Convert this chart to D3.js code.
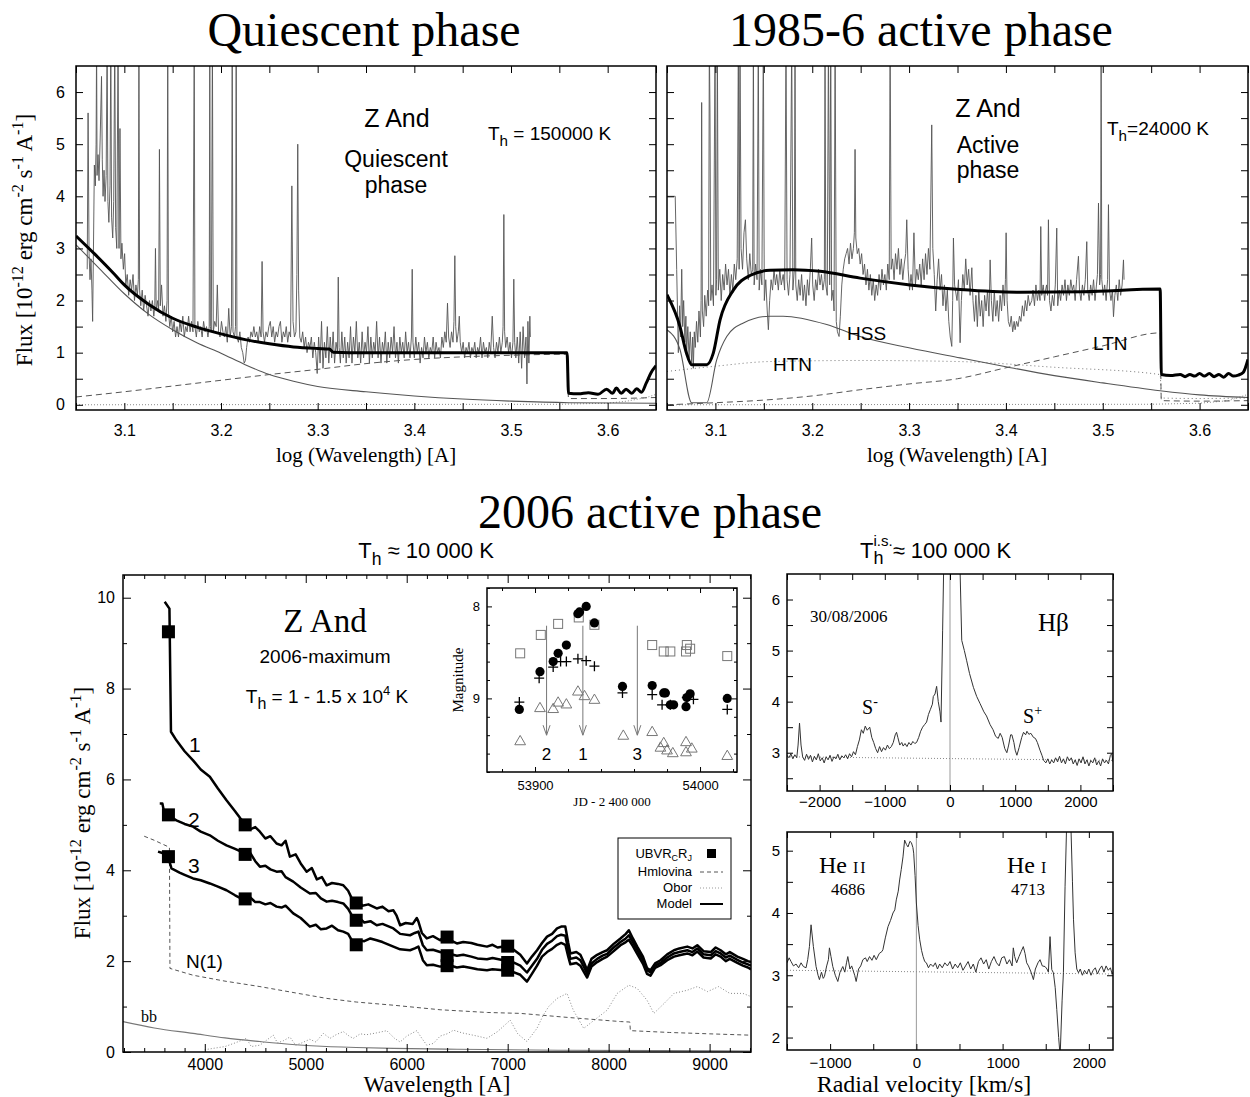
<!DOCTYPE html>
<html>
<head>
<meta charset="utf-8">
<script src="https://cdn.jsdelivr.net/npm/d3@7"></script>
<style>
  body { margin: 0; background: #fff; }
</style>
</head>
<body>
<svg width="1250" height="1097"></svg>
<script>

// ---- quiescent phase (top left), x = log wavelength, y = flux ----
let qObs = [[3.0616,2.6],[3.0625,5.6],[3.0635,2.9],[3.0645,2.4],[3.0655,2.8],[3.0665,2.2],[3.0672,1.6],[3.068,2.9],[3.069,4.6],[3.07,4.2],[3.0708,5.0],[3.0713,7],[3.0718,4.4],[3.0728,4.8],[3.0738,4.3],[3.075,5.1],[3.0764,6.3],[3.0772,4.7],[3.078,4.0],[3.079,4.5],[3.08,3.9],[3.0812,4.4],[3.0822,7],[3.083,3.9],[3.084,3.5],[3.0852,4.2],[3.086,7],[3.0868,3.6],[3.088,3.2],[3.089,3.9],[3.0901,7],[3.091,3.4],[3.0922,3.0],[3.0935,7],[3.0945,3.0],[3.0955,5.3],[3.0965,2.8],[3.0975,3.1],[3.099,2.6],[3.1003,2.9],[3.1015,2.3],[3.103,2.5],[3.1045,2.1],[3.106,2.4],[3.1075,2.2],[3.109,2.5],[3.1105,2.0],[3.112,2.3],[3.1135,2.1],[3.1145,2.4],[3.1151,7],[3.1158,2.2],[3.117,1.9],[3.1185,2.2],[3.12,1.8],[3.1215,2.1],[3.123,1.9],[3.1245,1.7],[3.126,2.0],[3.1275,1.8],[3.129,2.0],[3.1305,1.7],[3.1315,1.9],[3.1322,3.0],[3.133,1.8],[3.1345,2.0],[3.1355,1.8],[3.1363,4.9],[3.1372,1.9],[3.1385,2.3],[3.14,1.7],[3.1415,1.9],[3.143,1.6],[3.1442,2.0],[3.1449,7],[3.1456,1.8],[3.147,1.5],[3.1485,1.7],[3.15,1.4],[3.1515,1.6],[3.153,1.3],[3.1545,1.5],[3.156,1.3],[3.1575,1.6],[3.159,1.4],[3.1605,1.7],[3.162,1.3],[3.1635,1.5],[3.165,1.4],[3.1665,1.7],[3.168,1.4],[3.1695,1.6],[3.171,1.4],[3.1723,7],[3.173,1.5],[3.1745,1.3],[3.176,1.6],[3.1775,1.4],[3.179,1.5],[3.1805,1.3],[3.182,1.6],[3.1835,1.4],[3.185,1.5],[3.1865,1.3],[3.1878,1.5],[3.1884,7],[3.189,1.5],[3.19,1.4],[3.1911,7],[3.192,1.4],[3.1935,1.6],[3.195,1.5],[3.1962,2.3],[3.1975,1.4],[3.199,1.3],[3.2005,1.6],[3.202,1.4],[3.2035,1.3],[3.205,1.5],[3.2065,1.2],[3.208,1.85],[3.2095,1.3],[3.2108,1.5],[3.2116,7],[3.2124,1.4],[3.214,1.3],[3.215,1.5],[3.2157,7],[3.2165,1.3],[3.218,1.2],[3.2195,1.4],[3.221,1.1],[3.2225,1.0],[3.224,0.8],[3.2253,0.85],[3.2265,1.1],[3.228,1.3],[3.2295,1.2],[3.231,1.4],[3.2325,1.3],[3.234,1.5],[3.2355,1.3],[3.237,1.4],[3.2385,1.2],[3.24,1.5],[3.2415,1.3],[3.2425,2.75],[3.2435,1.4],[3.245,1.2],[3.2465,1.4],[3.248,1.3],[3.2495,1.5],[3.251,1.6],[3.2525,1.3],[3.254,1.5],[3.2555,1.2],[3.257,1.4],[3.2585,1.3],[3.26,1.5],[3.2615,1.6],[3.263,1.2],[3.2645,1.4],[3.266,1.3],[3.2675,1.5],[3.269,1.2],[3.2705,1.4],[3.272,1.3],[3.2733,4.2],[3.2745,1.6],[3.276,1.3],[3.2775,1.4],[3.2785,2.5],[3.2794,5.0],[3.2803,2.2],[3.2815,1.3],[3.283,1.2],[3.2845,1.4],[3.286,1.1],[3.2875,1.3],[3.289,1.0],[3.2905,1.2],[3.292,1.1],[3.2935,1.3],[3.295,0.9],[3.2965,1.2],[3.298,1.0],[3.2995,0.6],[3.301,1.3],[3.3025,0.8],[3.304,1.6],[3.3055,0.7],[3.307,1.2],[3.3085,0.9],[3.31,1.5],[3.3115,0.8],[3.313,1.3],[3.3145,0.9],[3.316,1.4],[3.3175,0.8],[3.319,1.2],[3.3205,1.0],[3.3213,2.45],[3.3222,1.1],[3.3235,0.8],[3.325,1.4],[3.3265,0.9],[3.328,1.3],[3.3295,0.8],[3.331,1.2],[3.3325,0.9],[3.334,1.5],[3.3355,0.8],[3.337,1.3],[3.3385,1.0],[3.34,1.6],[3.3415,0.9],[3.343,1.2],[3.3445,0.8],[3.346,1.4],[3.3475,0.9],[3.349,1.2],[3.3505,1.0],[3.352,1.5],[3.3535,0.8],[3.355,1.3],[3.3565,0.9],[3.358,1.2],[3.3595,1.0],[3.361,1.6],[3.3625,0.9],[3.364,1.3],[3.3655,0.8],[3.367,1.2],[3.3685,1.0],[3.37,1.4],[3.3715,0.8],[3.373,1.2],[3.3745,0.9],[3.376,1.3],[3.3775,1.0],[3.379,1.5],[3.3805,0.9],[3.382,1.2],[3.3835,0.8],[3.385,1.3],[3.3865,1.0],[3.388,1.2],[3.3895,0.9],[3.391,1.4],[3.3925,1.0],[3.394,1.2],[3.3955,0.9],[3.397,1.3],[3.3978,2.6],[3.3986,1.2],[3.4,0.9],[3.4015,1.3],[3.403,1.0],[3.4045,1.2],[3.406,0.8],[3.4075,1.1],[3.409,0.9],[3.4105,1.3],[3.412,1.0],[3.4135,1.2],[3.415,0.9],[3.4165,1.1],[3.418,1.0],[3.4195,1.3],[3.421,0.9],[3.4225,1.2],[3.424,1.0],[3.4255,1.1],[3.427,0.9],[3.4285,1.3],[3.43,1.1],[3.4315,1.4],[3.433,1.2],[3.4343,1.95],[3.4355,1.3],[3.437,1.1],[3.4385,1.4],[3.44,1.2],[3.441,1.6],[3.4419,2.86],[3.4428,1.5],[3.444,1.2],[3.4455,1.4],[3.4465,1.7],[3.4475,1.2],[3.449,1.0],[3.4505,1.2],[3.452,0.9],[3.4535,1.1],[3.455,1.0],[3.4565,1.2],[3.458,0.9],[3.4595,1.1],[3.461,1.0],[3.4625,1.2],[3.464,0.9],[3.4655,1.1],[3.467,1.0],[3.4685,1.3],[3.47,0.9],[3.4715,1.2],[3.473,1.0],[3.4745,1.1],[3.476,0.9],[3.4775,1.2],[3.479,1.0],[3.4806,1.7],[3.482,1.1],[3.4835,0.9],[3.485,1.2],[3.4865,1.0],[3.488,1.3],[3.4895,1.0],[3.491,1.2],[3.4918,1.5],[3.4926,3.65],[3.4934,1.4],[3.4945,1.1],[3.496,1.3],[3.4975,1.0],[3.499,1.2],[3.5005,0.9],[3.502,1.2],[3.5029,2.41],[3.5038,1.2],[3.505,0.9],[3.5065,1.3],[3.508,0.8],[3.5095,1.4],[3.511,0.7],[3.5125,1.5],[3.514,0.9],[3.5155,1.3],[3.5165,0.4],[3.5175,1.6],[3.5185,0.8],[3.5195,1.7],[3.52,1.3]]
let qModel = [[3.05,3.24],[3.07,2.88],[3.09,2.5],[3.10,2.3],[3.125,1.93],[3.15,1.66],[3.175,1.49],[3.20,1.36],[3.225,1.25],[3.25,1.17],[3.275,1.11],[3.30,1.08],[3.312,1.07],[3.316,1.01],[3.35,1.0],[3.45,1.0],[3.558,1.0],[3.5595,0.22],[3.57,0.21],[3.58,0.23],[3.59,0.2],[3.599,0.3],[3.605,0.22],[3.609,0.32],[3.614,0.22],[3.619,0.3],[3.625,0.22],[3.63,0.31],[3.635,0.24],[3.64,0.42],[3.645,0.62],[3.65,0.75]]
let qHot = [[3.05,3.07],[3.075,2.6],[3.10,2.13],[3.125,1.74],[3.15,1.44],[3.175,1.19],[3.20,0.99],[3.225,0.77],[3.25,0.58],[3.275,0.45],[3.30,0.35],[3.35,0.25],[3.40,0.17],[3.45,0.11],[3.50,0.07],[3.56,0.04],[3.65,0.03]]
let qNeb = [[3.05,0.15],[3.10,0.25],[3.15,0.36],[3.20,0.47],[3.25,0.58],[3.30,0.68],[3.35,0.79],[3.40,0.87],[3.45,0.92],[3.50,0.95],[3.558,0.97],[3.5595,0.12],[3.60,0.12],[3.65,0.14]]
let qGiant = [[3.05,0.0],[3.55,0.01],[3.60,0.03],[3.62,0.07],[3.64,0.14],[3.65,0.2]]

// ---- 1985-6 active phase (top right) ----
let aObs = [[3.05,4.0],[3.0585,4.0],[3.06,2.6],[3.0617,1.0],[3.063,1.9],[3.064,1.3],[3.0652,2.6],[3.0662,1.5],[3.0672,2.0],[3.0685,1.2],[3.0695,1.7],[3.0703,1.0],[3.0715,1.5],[3.0728,0.9],[3.074,1.4],[3.0755,0.8],[3.0765,1.3],[3.0772,0.7],[3.0782,1.4],[3.0792,1.1],[3.0805,1.6],[3.0818,1.2],[3.083,1.8],[3.0845,1.3],[3.0852,2.0],[3.0858,5.8],[3.0865,1.8],[3.0878,1.5],[3.089,2.1],[3.0905,1.7],[3.092,2.2],[3.093,1.9],[3.0937,7],[3.0944,5.6],[3.0952,2.0],[3.0965,2.3],[3.098,1.9],[3.0996,7],[3.1005,2.1],[3.1012,2.4],[3.102,7],[3.103,2.2],[3.1045,2.6],[3.106,2.0],[3.1075,2.5],[3.109,2.2],[3.1105,2.7],[3.112,2.3],[3.1135,2.6],[3.115,2.1],[3.1165,2.5],[3.118,2.2],[3.1195,2.7],[3.121,2.4],[3.1225,2.8],[3.1237,7],[3.1245,2.6],[3.1254,7],[3.1265,3.0],[3.128,2.6],[3.1295,3.3],[3.131,3.55],[3.1323,2.8],[3.134,2.4],[3.1355,2.9],[3.137,2.5],[3.1385,2.6],[3.1392,7],[3.14,2.3],[3.1415,2.7],[3.143,2.4],[3.1443,7],[3.1452,2.2],[3.1465,2.6],[3.148,2.3],[3.1495,7],[3.1505,2.0],[3.152,2.4],[3.1535,1.8],[3.1547,1.44],[3.156,2.0],[3.1575,2.4],[3.159,2.2],[3.1605,2.6],[3.162,2.3],[3.1633,2.5],[3.165,2.2],[3.1665,2.6],[3.168,2.3],[3.17,2.5],[3.1715,2.2],[3.1729,7],[3.174,2.4],[3.1755,2.1],[3.177,2.5],[3.1788,7],[3.18,2.2],[3.1815,2.6],[3.1822,7],[3.183,2.3],[3.1845,2.0],[3.186,2.4],[3.1875,2.1],[3.189,2.5],[3.1905,2.0],[3.192,2.3],[3.1935,1.9],[3.195,2.4],[3.1965,2.1],[3.198,2.6],[3.1994,3.2],[3.2005,2.3],[3.202,2.0],[3.2035,2.4],[3.205,2.2],[3.2065,2.6],[3.208,2.3],[3.2095,2.5],[3.211,2.2],[3.2125,2.4],[3.2132,7],[3.214,2.3],[3.2155,2.1],[3.2167,7],[3.218,2.3],[3.2191,7],[3.22,2.0],[3.2215,2.2],[3.2225,1.8],[3.2236,7],[3.2248,1.6],[3.226,1.4],[3.2277,1.31],[3.229,1.7],[3.2305,2.3],[3.232,2.6],[3.2335,2.8],[3.235,2.9],[3.2365,3.0],[3.238,2.7],[3.2395,3.1],[3.241,2.8],[3.2425,3.0],[3.2435,3.3],[3.2442,4.9],[3.245,3.2],[3.2465,2.9],[3.248,3.0],[3.2495,2.7],[3.251,2.9],[3.2525,2.5],[3.254,2.7],[3.2555,2.3],[3.257,2.6],[3.2585,2.2],[3.26,2.5],[3.2615,2.1],[3.263,2.4],[3.2645,2.0],[3.266,2.3],[3.2675,2.1],[3.269,2.5],[3.2705,2.2],[3.272,2.6],[3.2735,2.3],[3.275,2.5],[3.2765,2.2],[3.278,2.7],[3.2795,2.4],[3.2804,7],[3.2815,2.6],[3.283,2.8],[3.2845,2.4],[3.286,2.9],[3.2875,2.6],[3.289,3.0],[3.2905,2.5],[3.292,2.8],[3.2935,2.4],[3.295,2.7],[3.2965,2.9],[3.2976,3.55],[3.299,2.6],[3.3005,2.2],[3.302,2.5],[3.3035,2.2],[3.305,3.3],[3.3065,2.3],[3.308,2.6],[3.3095,2.4],[3.311,2.7],[3.3125,2.3],[3.314,2.8],[3.3155,2.4],[3.317,2.9],[3.3185,2.5],[3.32,3.0],[3.3215,2.6],[3.3234,5.37],[3.3245,3.0],[3.326,2.5],[3.3275,1.8],[3.329,2.4],[3.3305,2.8],[3.332,2.2],[3.3335,2.5],[3.335,1.9],[3.3365,2.3],[3.338,1.8],[3.3395,2.2],[3.341,1.6],[3.3425,1.3],[3.3441,1.12],[3.345,2.0],[3.3458,3.2],[3.347,2.3],[3.3495,2.0],[3.351,2.4],[3.3527,1.19],[3.354,2.0],[3.3555,2.5],[3.357,2.2],[3.3585,2.8],[3.36,2.3],[3.3615,2.6],[3.363,2.1],[3.3648,2.63],[3.366,2.0],[3.3675,1.6],[3.369,2.1],[3.3705,1.5],[3.372,2.2],[3.3735,1.7],[3.375,2.0],[3.3765,1.5],[3.378,2.1],[3.3795,1.8],[3.381,2.2],[3.3825,1.7],[3.3837,2.78],[3.385,2.0],[3.3865,1.6],[3.388,2.2],[3.3895,1.7],[3.391,2.0],[3.3925,1.6],[3.394,2.1],[3.3955,1.8],[3.397,2.3],[3.3985,1.9],[3.3995,2.4],[3.4002,3.3],[3.4012,2.0],[3.4025,1.6],[3.404,1.5],[3.4055,1.7],[3.407,1.4],[3.4085,1.6],[3.4095,1.44],[3.411,1.6],[3.4125,1.5],[3.414,1.7],[3.4155,1.6],[3.417,1.9],[3.4185,1.7],[3.42,2.0],[3.4215,1.8],[3.423,2.1],[3.4245,1.9],[3.4267,2.0],[3.428,2.2],[3.4295,1.9],[3.431,2.3],[3.4325,2.0],[3.434,2.2],[3.4352,2.0],[3.436,3.42],[3.437,2.1],[3.4385,2.3],[3.44,2.0],[3.441,2.2],[3.442,2.3],[3.443,2.1],[3.4439,3.55],[3.445,2.0],[3.4465,1.8],[3.448,2.1],[3.4495,1.9],[3.451,2.3],[3.4525,3.39],[3.4535,1.9],[3.455,2.2],[3.4565,2.0],[3.458,2.3],[3.4595,2.1],[3.461,2.4],[3.4625,2.0],[3.464,2.3],[3.4655,2.1],[3.467,2.4],[3.4685,2.2],[3.47,2.3],[3.4715,2.0],[3.473,2.4],[3.4749,2.85],[3.476,2.2],[3.4775,2.0],[3.479,2.3],[3.4805,2.1],[3.482,2.4],[3.4835,3.13],[3.4845,2.2],[3.486,2.0],[3.4875,2.3],[3.489,2.1],[3.4905,2.4],[3.492,2.0],[3.4935,2.3],[3.4945,2.5],[3.4956,3.87],[3.4968,2.3],[3.4978,2.5],[3.4983,7],[3.499,2.4],[3.5005,2.1],[3.502,2.3],[3.5035,2.0],[3.505,2.4],[3.5059,3.84],[3.507,2.2],[3.5085,2.0],[3.51,2.2],[3.5111,1.69],[3.5125,2.1],[3.514,2.3],[3.5155,2.0],[3.517,2.4],[3.5185,2.1],[3.52,2.3],[3.5214,2.78],[3.522,2.4]]
let aModel = [[3.05,2.11],[3.0634,1.5],[3.07,1.0],[3.0755,0.77],[3.091,0.77],[3.0978,0.99],[3.1048,1.63],[3.1185,2.2],[3.1357,2.48],[3.1564,2.58],[3.18,2.59],[3.208,2.56],[3.2494,2.43],[3.301,2.3],[3.3527,2.21],[3.4113,2.16],[3.4801,2.17],[3.5593,2.22],[3.5605,0.58],[3.57,0.56],[3.58,0.58],[3.585,0.54],[3.59,0.58],[3.595,0.55],[3.60,0.6],[3.605,0.55],[3.61,0.6],[3.615,0.54],[3.62,0.58],[3.625,0.53],[3.63,0.6],[3.635,0.55],[3.64,0.57],[3.645,0.62],[3.65,0.87]]
let aHSS = [[3.05,1.44],[3.0634,1.06],[3.0755,0.04],[3.091,0.04],[3.1013,0.86],[3.1117,1.31],[3.1289,1.57],[3.1564,1.70],[3.17,1.70],[3.215,1.54],[3.2494,1.31],[3.301,1.09],[3.3527,0.9],[3.40,0.73],[3.45,0.56],[3.50,0.42],[3.5593,0.27],[3.60,0.19],[3.65,0.14]]
let aHTN = [[3.05,0.64],[3.10,0.74],[3.156,0.83],[3.25,0.85],[3.35,0.83],[3.45,0.72],[3.5593,0.58],[3.5605,0.13],[3.60,0.12],[3.65,0.13]]
let aLTN = [[3.05,0.0],[3.10,0.04],[3.15,0.09],[3.20,0.17],[3.25,0.29],[3.30,0.40],[3.35,0.50],[3.40,0.71],[3.45,0.92],[3.50,1.13],[3.5593,1.38],[3.5605,0.08],[3.60,0.07],[3.65,0.08]]
let aGiant = [[3.05,0.0],[3.55,0.01],[3.60,0.03],[3.63,0.08],[3.65,0.2]]

let logTicks = [3.1, 3.2, 3.3, 3.4, 3.5, 3.6]
let logMinor = [3.05, 3.15, 3.25, 3.35, 3.45, 3.55, 3.65]
let topFluxTicks = [0, 1, 2, 3, 4, 5, 6]
let topFluxMinor = [0.5, 1.5, 2.5, 3.5, 4.5, 5.5]

// ---- 2006 maximum (bottom left), x = wavelength A ----
let model1 = [[3603,9.91],[3650,9.76],[3665,7.05],[3719,6.86],[3800,6.62],[3884,6.42],[3960,6.22],[4050,6.06],[4130,5.8],[4215,5.54],[4300,5.3],[4350,5.15],[4397,5.03],[4420,5.1],[4450,4.9],[4500,4.95],[4546,4.85],[4600,4.7],[4650,4.75],[4711,4.59],[4760,4.55],[4800,4.65],[4843,4.3],[4900,4.35],[4950,4.15],[5009,3.97],[5060,4.05],[5110,3.8],[5160,3.85],[5207,3.67],[5260,3.72],[5320,3.7],[5372,3.67],[5420,3.55],[5471,3.31],[5520,3.35],[5560,3.22],[5620,3.25],[5703,3.16],[5760,3.2],[5820,3.1],[5868,3.12],[5900,3.0],[5935,2.79],[5990,2.84],[6060,2.82],[6100,2.95],[6116,2.87],[6150,2.62],[6199,2.5],[6260,2.55],[6331,2.46],[6400,2.6],[6440,2.45],[6497,2.39],[6560,2.42],[6640,2.4],[6700,2.36],[6795,2.32],[6850,2.36],[6900,2.3],[6959,2.32],[7030,2.3],[7125,2.14],[7191,1.95],[7240,2.1],[7291,2.24],[7340,2.4],[7390,2.54],[7440,2.6],[7489,2.72],[7530,2.76],[7571,2.76],[7600,2.4],[7621,2.17],[7680,2.2],[7720,2.14],[7760,1.95],[7787,1.8],[7830,2.05],[7886,2.14],[7940,2.2],[7985,2.24],[8050,2.38],[8117,2.5],[8170,2.6],[8200,2.68],[8240,2.5],[8283,2.32],[8340,2.1],[8380,1.85],[8415,1.8],[8460,1.95],[8514,2.02],[8580,2.15],[8647,2.24],[8700,2.28],[8779,2.32],[8830,2.28],[8878,2.35],[8940,2.22],[9011,2.2],[9060,2.3],[9109,2.24],[9160,2.15],[9200,2.2],[9275,2.1],[9330,2.05],[9380,2.0],[9410,1.98]]
let model2 = [[3554,5.47],[3580,5.47],[3600,5.25],[3636,5.21],[3719,5.1],[3800,5.02],[3884,4.96],[3960,4.85],[4050,4.77],[4130,4.65],[4215,4.55],[4300,4.47],[4397,4.37],[4450,4.38],[4500,4.2],[4546,4.08],[4600,4.1],[4650,4.02],[4711,3.97],[4760,3.98],[4800,3.85],[4876,3.75],[4950,3.62],[5041,3.49],[5100,3.5],[5150,3.38],[5207,3.31],[5260,3.33],[5320,3.3],[5372,3.27],[5420,3.15],[5471,2.95],[5520,2.98],[5580,2.85],[5640,2.88],[5703,2.79],[5760,2.82],[5868,2.72],[5935,2.6],[6033,2.57],[6080,2.62],[6116,2.65],[6160,2.35],[6199,2.24],[6260,2.25],[6331,2.2],[6440,2.15],[6497,2.12],[6560,2.14],[6640,2.1],[6700,2.06],[6795,2.04],[6850,2.07],[6959,2.02],[7030,2.0],[7125,1.9],[7191,1.75],[7240,1.9],[7291,2.05],[7340,2.25],[7390,2.38],[7440,2.45],[7489,2.55],[7530,2.58],[7571,2.56],[7600,2.25],[7621,2.05],[7680,2.08],[7720,2.02],[7760,1.85],[7787,1.72],[7830,1.95],[7886,2.05],[7940,2.12],[7985,2.16],[8050,2.3],[8117,2.42],[8170,2.5],[8200,2.57],[8240,2.42],[8283,2.25],[8340,2.02],[8380,1.8],[8415,1.75],[8460,1.9],[8514,1.96],[8580,2.08],[8647,2.17],[8700,2.2],[8779,2.24],[8830,2.2],[8878,2.28],[8940,2.15],[9011,2.13],[9060,2.22],[9109,2.17],[9160,2.08],[9200,2.12],[9275,2.03],[9330,1.97],[9380,1.93],[9410,1.9]]
let model3 = [[3537,4.41],[3580,4.38],[3636,4.3],[3670,4.04],[3750,3.95],[3800,3.9],[3884,3.82],[3960,3.78],[4050,3.71],[4130,3.64],[4215,3.56],[4300,3.45],[4397,3.34],[4450,3.4],[4500,3.3],[4546,3.3],[4600,3.25],[4650,3.28],[4711,3.2],[4760,3.18],[4800,3.22],[4876,3.05],[4950,2.95],[5041,2.76],[5100,2.8],[5150,2.7],[5207,2.72],[5260,2.78],[5320,2.68],[5372,2.65],[5420,2.6],[5471,2.4],[5520,2.46],[5580,2.44],[5640,2.5],[5703,2.46],[5760,2.42],[5868,2.32],[5935,2.26],[6033,2.24],[6080,2.28],[6116,2.32],[6160,2.02],[6199,1.91],[6260,1.92],[6331,1.88],[6440,1.9],[6497,1.86],[6560,1.88],[6640,1.85],[6700,1.82],[6795,1.8],[6850,1.82],[6959,1.8],[7030,1.78],[7125,1.7],[7191,1.55],[7240,1.72],[7291,1.9],[7340,2.1],[7390,2.2],[7440,2.27],[7489,2.36],[7530,2.4],[7571,2.36],[7600,2.1],[7621,1.93],[7680,1.96],[7720,1.9],[7760,1.74],[7787,1.64],[7830,1.88],[7886,1.98],[7940,2.05],[7985,2.1],[8050,2.22],[8117,2.35],[8170,2.42],[8200,2.47],[8240,2.33],[8283,2.16],[8340,1.94],[8380,1.72],[8415,1.68],[8460,1.85],[8514,1.91],[8580,2.02],[8647,2.1],[8700,2.13],[8779,2.17],[8830,2.13],[8878,2.21],[8940,2.08],[9011,2.06],[9060,2.15],[9109,2.1],[9160,2.0],[9200,2.05],[9275,1.96],[9330,1.9],[9380,1.86],[9410,1.82]]
let phot1 = [[3640,9.25],[4400,5.0],[5500,3.28],[6400,2.53],[7000,2.33]]
let phot2 = [[3640,5.22],[4400,4.35],[5500,2.9],[6400,2.12],[7000,1.97]]
let phot3 = [[3640,4.3],[4400,3.37],[5500,2.36],[6400,1.9],[7000,1.8]]
let nebN1 = [[3400,4.75],[3500,4.66],[3636,4.52],[3650,4.5],[3655,1.84],[3884,1.69],[4200,1.56],[4546,1.44],[4900,1.3],[5207,1.18],[5500,1.1],[5868,1.03],[6331,0.93],[6800,0.87],[7125,0.85],[7600,0.76],[8117,0.67],[8210,0.66],[8215,0.47],[8600,0.43],[9000,0.4],[9410,0.37]]
let bbCurve = [[3190,0.67],[3500,0.53],[3884,0.41],[4200,0.31],[4546,0.23],[4900,0.16],[5207,0.12],[5500,0.1],[5868,0.08],[6500,0.06],[7500,0.04],[8500,0.03],[9410,0.02]]
let oborCurve = [[4000,0.05],[4083,0.08],[4200,0.12],[4300,0.2],[4413,0.3],[4460,0.12],[4546,0.15],[4678,0.37],[4720,0.2],[4780,0.25],[4843,0.33],[4900,0.15],[4960,0.2],[5040,0.28],[5100,0.22],[5174,0.41],[5240,0.3],[5300,0.38],[5372,0.45],[5430,0.35],[5471,0.3],[5540,0.4],[5600,0.38],[5700,0.42],[5802,0.47],[5880,0.3],[5935,0.22],[6000,0.35],[6100,0.47],[6150,0.3],[6199,0.15],[6265,0.19],[6331,0.35],[6400,0.4],[6464,0.48],[6550,0.42],[6700,0.35],[6795,0.3],[6900,0.45],[7025,0.7],[7100,0.4],[7191,0.23],[7290,0.52],[7350,0.8],[7406,1.0],[7490,1.18],[7588,1.29],[7650,0.92],[7753,0.52],[7880,0.74],[7985,0.92],[8085,1.29],[8200,1.47],[8283,1.4],[8380,1.14],[8448,0.85],[8550,1.07],[8647,1.29],[8779,1.36],[8878,1.44],[8980,1.33],[9090,1.44],[9200,1.29],[9330,1.29],[9410,1.22]]
let wlTicks = [4000, 5000, 6000, 7000, 8000, 9000]
let wlMinor = [3200,3400,3600,3800,4200,4400,4600,4800,5200,5400,5600,5800,6200,6400,6600,6800,7200,7400,7600,7800,8200,8400,8600,8800,9200,9400]
let botFluxTicks = [0, 2, 4, 6, 8, 10]
let botFluxMinor = [1, 3, 5, 7, 9]

// ---- inset light curve, x = JD - 2400000, y = magnitude ----
let lcFilled = [[53890.5,9.12],[53903,8.71],[53911,8.6],[53914,8.51],[53919,8.42],[53926,8.08],[53927,8.06],[53931,8.0],[53936,8.18],[53953,8.87],[53971,8.86],[53978,8.94],[53979,8.94],[53982,9.07],[53984,9.07],[53991.5,9.09],[53992,8.99],[53994,8.95],[54016.5,9.0]]
let lcPlus = [[53890.5,9.04],[53902.5,8.78],[53911,8.66],[53915.5,8.6],[53919,8.6],[53926,8.57],[53931,8.59],[53936,8.65],[53953,8.94],[53971,8.96],[53977,9.07],[53982,9.07],[53992,8.99],[53996,9.01],[54016.5,9.12]]
let lcSquare = [[53891,8.51],[53903.5,8.31],[53914,8.19],[53926.5,8.12],[53936,8.2],[53971,8.42],[53978,8.49],[53982,8.49],[53991.5,8.49],[53992,8.42],[53994,8.46],[54016.5,8.54]]
let lcTriangle = [[53891,9.47],[53903,9.11],[53911,9.12],[53914,9.05],[53919,9.07],[53926,8.93],[53930,8.98],[53936,9.02],[53953.5,9.41],[53971,9.37],[53978,9.49],[53976,9.54],[53980,9.57],[53983.5,9.6],[53991.5,9.48],[53991.5,9.59],[53995,9.55],[54016.5,9.63]]
let arrowJD = [53907, 53929, 53962]
let arrowNames = ['2', '1', '3']
let jdTicks = [53900, 54000]
let jdMinor = [53880, 53920, 53940, 53960, 53980, 54020]
let magTicks = [8, 9]
let magMinor = [7.8, 8.2, 8.4, 8.6, 8.8, 9.2, 9.4, 9.6, 9.8]

// ---- H beta and He profiles, x = radial velocity km/s ----
let hbLine = [[-2500,2.95],[-2470,2.9],[-2440,2.98],[-2410,2.88],[-2380,2.96],[-2350,2.9],[-2330,3.15],[-2308,3.58],[-2285,3.15],[-2260,2.92],[-2230,2.85],[-2200,2.97],[-2170,2.87],[-2140,2.95],[-2110,2.82],[-2080,2.93],[-2050,2.86],[-2020,2.98],[-1990,2.84],[-1960,2.9],[-1930,2.8],[-1900,2.92],[-1870,2.86],[-1840,2.95],[-1810,2.83],[-1780,2.92],[-1750,2.88],[-1720,2.97],[-1690,2.86],[-1660,2.94],[-1630,2.9],[-1600,2.96],[-1570,2.88],[-1540,2.98],[-1510,2.92],[-1480,3.02],[-1450,2.96],[-1420,3.12],[-1390,3.25],[-1359,3.45],[-1330,3.38],[-1300,3.52],[-1270,3.44],[-1231,3.5],[-1200,3.3],[-1170,3.2],[-1140,3.08],[-1110,3.0],[-1080,3.12],[-1050,3.02],[-1020,3.1],[-990,3.05],[-960,3.15],[-930,3.08],[-900,3.12],[-870,3.2],[-840,3.35],[-820,3.4],[-800,3.3],[-770,3.15],[-740,3.2],[-718,3.13],[-690,3.18],[-660,3.12],[-630,3.2],[-600,3.15],[-570,3.22],[-540,3.18],[-513,3.2],[-480,3.3],[-450,3.42],[-420,3.5],[-390,3.55],[-359,3.6],[-330,3.75],[-300,3.85],[-270,3.95],[-256,4.1],[-230,4.15],[-205,4.3],[-180,4.0],[-154,3.8],[-138,3.6],[-113,5.4],[-92,7],[140,7],[154,6.6],[180,5.2],[220,5.0],[256,4.8],[300,4.55],[359,4.28],[410,4.1],[462,3.96],[520,3.8],[560,3.72],[615,3.55],[660,3.45],[700,3.32],[740,3.28],[769,3.38],[800,3.3],[840,3.08],[872,3.0],[900,3.15],[930,3.35],[949,3.35],[980,3.2],[1000,3.05],[1026,2.95],[1060,3.1],[1100,3.3],[1128,3.4],[1160,3.35],[1180,3.42],[1210,3.36],[1240,3.38],[1280,3.3],[1310,3.28],[1340,3.2],[1380,3.05],[1410,2.95],[1436,2.85],[1470,2.8],[1500,2.88],[1530,2.78],[1560,2.86],[1590,2.8],[1620,2.9],[1650,2.82],[1680,2.93],[1710,2.8],[1740,2.88],[1770,2.78],[1800,2.92],[1830,2.84],[1860,2.9],[1890,2.78],[1920,2.86],[1950,2.75],[1980,2.88],[2010,2.8],[2040,2.92],[2070,2.78],[2100,2.86],[2130,2.74],[2160,2.85],[2190,2.8],[2220,2.9],[2250,2.76],[2280,2.84],[2310,2.74],[2340,2.88],[2370,2.8],[2400,2.85],[2430,2.78],[2460,2.95],[2480,2.98],[2500,2.82]]
let hbCont = [[-2500,2.92],[2500,2.85]]
let heLine = [[-1500,3.2],[-1475,3.28],[-1453,3.22],[-1425,3.15],[-1395,3.18],[-1365,3.12],[-1337,3.2],[-1310,3.14],[-1279,3.12],[-1260,3.25],[-1240,3.46],[-1221,3.81],[-1194,3.46],[-1163,3.14],[-1140,3.0],[-1124,2.93],[-1100,3.05],[-1080,2.95],[-1066,2.98],[-1040,3.15],[-1020,3.25],[-1008,3.44],[-990,3.3],[-969,3.14],[-940,3.0],[-911,2.9],[-885,3.05],[-853,3.14],[-830,3.05],[-810,3.2],[-795,3.3],[-770,3.1],[-750,3.15],[-736,3.09],[-715,3.0],[-698,2.9],[-670,3.1],[-645,3.15],[-620,3.25],[-590,3.28],[-570,3.22],[-543,3.3],[-515,3.24],[-490,3.32],[-465,3.25],[-430,3.35],[-400,3.38],[-388,3.41],[-360,3.6],[-329,3.78],[-300,3.88],[-271,4.0],[-250,4.05],[-233,4.21],[-210,4.35],[-194,4.53],[-175,4.7],[-155,4.9],[-136,5.17],[-115,5.1],[-97,5.06],[-75,5.15],[-58,5.13],[-40,5.05],[-31,4.96],[-15,4.6],[0,4.16],[20,3.8],[39,3.57],[60,3.4],[78,3.3],[97,3.22],[116,3.2],[140,3.12],[165,3.18],[194,3.14],[220,3.2],[245,3.1],[270,3.18],[300,3.12],[330,3.2],[360,3.15],[390,3.22],[420,3.1],[450,3.18],[480,3.12],[510,3.2],[540,3.08],[570,3.15],[600,3.22],[630,3.1],[660,3.18],[690,3.05],[720,3.22],[750,3.28],[780,3.18],[810,3.25],[840,3.1],[870,3.22],[900,3.3],[930,3.2],[960,3.15],[990,3.28],[1020,3.3],[1050,3.18],[1080,3.25],[1110,3.15],[1124,3.44],[1140,3.3],[1163,3.2],[1190,3.3],[1215,3.38],[1240,3.46],[1260,3.35],[1279,3.2],[1300,3.15],[1330,3.05],[1357,2.93],[1380,3.1],[1410,3.2],[1434,3.25],[1460,3.15],[1492,3.14],[1515,3.1],[1531,3.05],[1550,3.62],[1570,3.09],[1589,3.04],[1610,2.8],[1628,2.45],[1650,2.0],[1667,1.7],[1690,2.6],[1705,3.04],[1724,4.42],[1744,5.5],[1790,5.5],[1810,4.5],[1822,3.89],[1841,3.36],[1860,3.1],[1880,3.04],[1900,3.1],[1925,3.0],[1950,3.08],[1975,3.02],[2000,3.1],[2025,3.0],[2050,3.08],[2075,3.12],[2100,3.02],[2125,3.1],[2150,3.15],[2175,3.05],[2200,3.15],[2225,3.08],[2250,3.12],[2270,3.02],[2280,3.05]]
let heCont = [[-1500,3.08],[2280,3.02]]
let hbVelTicks = [-2000, -1000, 0, 1000, 2000]
let hbVelMinor = [-2500, -1500, -500, 500, 1500, 2500]
let hbFluxTicks = [3, 4, 5, 6]
let hbFluxMinor = [2.5, 3.5, 4.5, 5.5]
let heVelTicks = [-1000, 0, 1000, 2000]
let heVelMinor = [-1500, -500, 500, 1500]
let heFluxTicks = [2, 3, 4, 5]
let heFluxMinor = [2.5, 3.5, 4.5]

let serif = "'Liberation Serif', 'Times New Roman', serif"
let sans = "'Liberation Sans', Arial, sans-serif"

let svg = d3.select('svg')
svg.append('rect').attr('width', 1250).attr('height', 1097).attr('fill', '#fff')

let panelCount = 0
let makePanel = (box, xDom, yDom) => {
    let id = 'clip' + (panelCount++)
    let x = d3.scaleLinear().domain(xDom).range([box.x0, box.x1])
    let y = d3.scaleLinear().domain(yDom).range([box.y1, box.y0])
    let g = svg.append('g')
    svg.append('clipPath').attr('id', id).append('rect')
        .attr('x', box.x0).attr('y', box.y0)
        .attr('width', box.x1 - box.x0).attr('height', box.y1 - box.y0)
    let plot = g.append('g').attr('clip-path', 'url(#' + id + ')')
    return {x, y, g, plot, box}
}

// one set of tick marks on one side
let putAxis = (p, axis, tr, vals, len, fmt, pad, fs) => {
    let a = p.g.append('g').attr('transform', tr)
        .call(axis.tickValues(vals).tickSize(-len).tickPadding(pad).tickFormat(fmt))
    a.select('.domain').remove()
    a.selectAll('line').attr('stroke', '#000').attr('stroke-width', 1)
    a.selectAll('text').attr('font-family', sans).attr('font-size', fs).attr('fill', '#000')
}

let drawFrame = (p, o) => {
    let b = p.box
    let none = () => ''
    putAxis(p, d3.axisBottom(p.x), `translate(0,${b.y1})`, o.xMajor, o.len, o.xFmt, o.xPad, o.fs)
    putAxis(p, d3.axisBottom(p.x), `translate(0,${b.y1})`, o.xMinor, o.minLen, none, 0, o.fs)
    putAxis(p, d3.axisTop(p.x), `translate(0,${b.y0})`, o.xMajor, o.len, none, 0, o.fs)
    putAxis(p, d3.axisTop(p.x), `translate(0,${b.y0})`, o.xMinor, o.minLen, none, 0, o.fs)
    putAxis(p, d3.axisLeft(p.y), `translate(${b.x0},0)`, o.yMajor, o.len, o.yFmt, o.yPad, o.fs)
    putAxis(p, d3.axisLeft(p.y), `translate(${b.x0},0)`, o.yMinor, o.minLen, none, 0, o.fs)
    putAxis(p, d3.axisRight(p.y), `translate(${b.x1},0)`, o.yMajor, o.len, none, 0, o.fs)
    putAxis(p, d3.axisRight(p.y), `translate(${b.x1},0)`, o.yMinor, o.minLen, none, 0, o.fs)
    p.g.append('rect').attr('x', b.x0).attr('y', b.y0)
        .attr('width', b.x1 - b.x0).attr('height', b.y1 - b.y0)
        .attr('fill', 'none').attr('stroke', '#000').attr('stroke-width', 1.5)
}

let drawLine = (p, data, stroke, width, dash, curve) => {
    let line = d3.line().x(d => p.x(d[0])).y(d => p.y(d[1])).curve(curve || d3.curveLinear)
    p.plot.append('path').datum(data).attr('d', line)
        .attr('fill', 'none').attr('stroke', stroke).attr('stroke-width', width)
        .attr('stroke-dasharray', dash || null).attr('stroke-linejoin', 'round')
}

let addText = (x, y, str, fs, fam, anchor) => {
    return svg.append('text').attr('x', x).attr('y', y).text(str)
        .attr('font-size', fs).attr('font-family', fam || sans)
        .attr('text-anchor', anchor || 'start').attr('fill', '#000')
}

// "T_h ..." style label
let tLabel = (x, y, rest, fs, anchor) => {
    let t = svg.append('text').attr('x', x).attr('y', y).attr('font-size', fs)
        .attr('font-family', sans).attr('text-anchor', anchor || 'start')
    t.append('tspan').text('T')
    t.append('tspan').text('h').attr('dy', fs * 0.3).attr('font-size', fs * 0.8)
    t.append('tspan').text(rest).attr('dy', -fs * 0.3)
    return t
}

let fluxLabel = (x, y, fs) => {
    let t = svg.append('text').attr('transform', `translate(${x},${y}) rotate(-90)`)
        .attr('font-size', fs).attr('font-family', serif).attr('text-anchor', 'middle')
    let parts = [['Flux [10', 0], ['-12', 1], [' erg cm', 0], ['-2', 1], [' s', 0], ['-1', 1], [' A', 0], ['-1', 1], [']', 0]]
    let up = false
    parts.forEach(p => {
        let s = t.append('tspan').text(p[0])
        if (p[1] && !up) { s.attr('dy', -fs * 0.4).attr('font-size', fs * 0.7); up = true }
        else if (p[1]) { s.attr('font-size', fs * 0.7) }
        else if (up) { s.attr('dy', fs * 0.4); up = false }
    })
}

// ================= top panels =================
let fmt1 = d3.format('.1f')
let topOpts = {xMajor: logTicks, xMinor: logMinor, yMajor: topFluxTicks, yMinor: topFluxMinor,
    len: 7, minLen: 7, fs: 16, xPad: 15, yPad: 11}

let pq = makePanel({x0: 76, x1: 656, y0: 66, y1: 410}, [3.05, 3.65], [-0.1, 6.5])
drawLine(pq, qGiant, '#888', 1, '1,2')
drawLine(pq, qNeb, '#555', 1, '6,4', d3.curveMonotoneX)
drawLine(pq, qHot, '#555', 1.1, null, d3.curveMonotoneX)
drawLine(pq, qObs, '#555', 0.9)
drawLine(pq, qModel, '#000', 3, null, d3.curveMonotoneX)
drawFrame(pq, Object.assign({}, topOpts, {xFmt: fmt1, yFmt: d3.format('d')}))

let pa = makePanel({x0: 667, x1: 1248, y0: 66, y1: 410}, [3.05, 3.65], [-0.1, 6.5])
drawLine(pa, aGiant, '#888', 1, '1,2')
drawLine(pa, aHTN, '#777', 1, '1,3', d3.curveMonotoneX)
drawLine(pa, aLTN, '#555', 1, '6,4', d3.curveMonotoneX)
drawLine(pa, aHSS, '#555', 1.1, null, d3.curveMonotoneX)
drawLine(pa, aObs, '#555', 0.9)
drawLine(pa, aModel, '#000', 3, null, d3.curveMonotoneX)
drawFrame(pa, Object.assign({}, topOpts, {xFmt: fmt1, yFmt: () => ''}))

addText(364, 46, 'Quiescent phase', 48, serif, 'middle')
addText(921, 46, '1985-6 active phase', 48, serif, 'middle')
fluxLabel(32, 240, 23)
addText(366, 462, 'log (Wavelength) [A]', 21, serif, 'middle')
addText(957, 462, 'log (Wavelength) [A]', 21, serif, 'middle')
addText(397, 127, 'Z And', 25, sans, 'middle')
addText(396, 167, 'Quiescent', 23, sans, 'middle')
addText(396, 193, 'phase', 23, sans, 'middle')
tLabel(488, 140, ' = 150000 K', 19)
addText(988, 117, 'Z And', 25, sans, 'middle')
addText(988, 153, 'Active', 23, sans, 'middle')
addText(988, 178, 'phase', 23, sans, 'middle')
tLabel(1107, 135, '=24000 K', 19)
addText(847, 340, 'HSS', 19, sans)
addText(773, 371, 'HTN', 19, sans)
addText(1093, 350, 'LTN', 19, sans)

// ================= bottom left =================
addText(650, 528, '2006 active phase', 48, serif, 'middle')
tLabel(426, 558, ' \u2248 10 000 K', 22, 'middle')

let pm = makePanel({x0: 123, x1: 751, y0: 575, y1: 1052}, [3190, 9410], [0, 10.5])
drawLine(pm, bbCurve, '#777', 1.1, null, d3.curveMonotoneX)
drawLine(pm, oborCurve, '#888', 1, '1,2')
drawLine(pm, nebN1, '#555', 1, '4,3')
drawLine(pm, model3, '#000', 2.5)
drawLine(pm, model2, '#000', 2.5)
drawLine(pm, model1, '#000', 2.5)
;[phot1, phot2, phot3].forEach(set => {
    pm.plot.selectAll(null).data(set).enter().append('rect')
        .attr('x', d => pm.x(d[0]) - 6.5).attr('y', d => pm.y(d[1]) - 6.5)
        .attr('width', 13).attr('height', 13).attr('fill', '#000')
})
drawFrame(pm, {xMajor: wlTicks, xMinor: wlMinor, yMajor: botFluxTicks, yMinor: botFluxMinor,
    len: 8, minLen: 4, fs: 16, xPad: 7, yPad: 8, xFmt: d3.format('d'), yFmt: d3.format('d')})

fluxLabel(90, 813, 23)
addText(437, 1092, 'Wavelength [A]', 23, serif, 'middle')
addText(325, 632, 'Z And', 33, serif, 'middle')
addText(325, 663, '2006-maximum', 19, sans, 'middle')
let tt = svg.append('text').attr('x', 327).attr('y', 703).attr('font-size', 19)
    .attr('font-family', sans).attr('text-anchor', 'middle')
tt.append('tspan').text('T')
tt.append('tspan').text('h').attr('dy', 6).attr('font-size', 16)
tt.append('tspan').text(' = 1 - 1.5 x 10').attr('dy', -6)
tt.append('tspan').text('4').attr('dy', -8).attr('font-size', 13)
tt.append('tspan').text(' K').attr('dy', 8)
addText(189, 752, '1', 21, sans)
addText(188, 827, '2', 21, sans)
addText(188, 873, '3', 21, sans)
addText(186, 968, 'N(1)', 19, sans)
addText(141, 1022, 'bb', 16, serif)

// legend
let lg = svg.append('g')
lg.append('rect').attr('x', 618).attr('y', 838).attr('width', 113).attr('height', 81)
    .attr('fill', '#fff').attr('stroke', '#000').attr('stroke-width', 1)
let lt = lg.append('text').attr('x', 692).attr('y', 858).attr('font-size', 13)
    .attr('font-family', sans).attr('text-anchor', 'end')
lt.append('tspan').text('UBVR')
lt.append('tspan').text('C').attr('dy', 3).attr('font-size', 9)
lt.append('tspan').text('R').attr('dy', -3)
lt.append('tspan').text('J').attr('dy', 3).attr('font-size', 9)
lg.append('rect').attr('x', 707).attr('y', 849).attr('width', 9).attr('height', 9).attr('fill', '#000')
let legRows = [['Hmlovina', 876, '#555', 1, '4,3'], ['Obor', 892, '#999', 1, '1,2'], ['Model', 908, '#000', 2, null]]
legRows.forEach(r => {
    lg.append('text').attr('x', 692).attr('y', r[1]).text(r[0]).attr('font-size', 13)
        .attr('font-family', sans).attr('text-anchor', 'end')
    lg.append('line').attr('x1', 700).attr('x2', 723).attr('y1', r[1] - 4).attr('y2', r[1] - 4)
        .attr('stroke', r[2]).attr('stroke-width', r[3]).attr('stroke-dasharray', r[4])
})

// ================= inset light curve =================
svg.append('rect').attr('x', 487).attr('y', 588).attr('width', 250).attr('height', 184).attr('fill', '#fff')
let pi = makePanel({x0: 487, x1: 737, y0: 588, y1: 772}, [53870.9, 54022.4], [9.8, 7.8])
arrowJD.forEach((jd, i) => {
    let ax = pi.x(jd), y0 = pi.y(8.21), y1 = pi.y(9.4)
    pi.plot.append('path').attr('d', `M${ax},${y0}V${y1}M${ax - 3.5},${y1 - 10}L${ax},${y1}L${ax + 3.5},${y1 - 10}`)
        .attr('fill', 'none').attr('stroke', '#777').attr('stroke-width', 1)
    pi.plot.append('text').attr('x', ax).attr('y', 760).text(arrowNames[i])
        .attr('font-size', 17).attr('font-family', sans).attr('text-anchor', 'middle')
})
pi.plot.selectAll(null).data(lcSquare).enter().append('rect')
    .attr('x', d => pi.x(d[0]) - 4.5).attr('y', d => pi.y(d[1]) - 4.5)
    .attr('width', 9).attr('height', 9).attr('fill', 'none').attr('stroke', '#777').attr('stroke-width', 1)
pi.plot.selectAll(null).data(lcTriangle).enter().append('path')
    .attr('d', d3.symbol().type(d3.symbolTriangle).size(50))
    .attr('transform', d => `translate(${pi.x(d[0])},${pi.y(d[1])})`)
    .attr('fill', 'none').attr('stroke', '#777').attr('stroke-width', 1)
pi.plot.selectAll(null).data(lcFilled).enter().append('circle')
    .attr('cx', d => pi.x(d[0])).attr('cy', d => pi.y(d[1])).attr('r', 4.6).attr('fill', '#000')
pi.plot.selectAll(null).data(lcPlus).enter().append('path')
    .attr('d', d => { let cx = pi.x(d[0]), cy = pi.y(d[1]); return `M${cx - 5},${cy}H${cx + 5}M${cx},${cy - 5}V${cy + 5}` })
    .attr('stroke', '#000').attr('stroke-width', 1.3)
drawFrame(pi, {xMajor: jdTicks, xMinor: jdMinor, yMajor: magTicks, yMinor: magMinor,
    len: 5, minLen: 3, fs: 13, xPad: 9, yPad: 7, xFmt: d3.format('d'), yFmt: d3.format('d')})
svg.append('text').attr('transform', 'translate(463,680) rotate(-90)').text('Magnitude')
    .attr('font-size', 15).attr('font-family', serif).attr('text-anchor', 'middle')
addText(612, 806, 'JD - 2 400 000', 13, serif, 'middle')

// ================= right: H beta =================
let th = svg.append('text').attr('x', 860).attr('y', 558).attr('font-size', 22).attr('font-family', sans)
th.append('tspan').text('T')
th.append('tspan').text('h').attr('dy', 6).attr('font-size', 18)
th.append('tspan').text('i.s.').attr('dx', -10).attr('dy', -18).attr('font-size', 15)
th.append('tspan').text('\u2248 100 000 K').attr('dy', 12)

let ph = makePanel({x0: 787, x1: 1113, y0: 574, y1: 791}, [-2500, 2500], [2.25, 6.5])
ph.plot.append('line').attr('x1', ph.x(0)).attr('x2', ph.x(0)).attr('y1', 574).attr('y2', 791)
    .attr('stroke', '#999').attr('stroke-width', 1)
drawLine(ph, hbCont, '#888', 1, '1,2')
drawLine(ph, hbLine, '#333', 1)
drawFrame(ph, {xMajor: hbVelTicks, xMinor: hbVelMinor, yMajor: hbFluxTicks, yMinor: hbFluxMinor,
    len: 6, minLen: 6, fs: 15, xPad: 5, yPad: 7, xFmt: d3.format('d'), yFmt: d3.format('d')})
addText(810, 622, '30/08/2006', 17, serif)
addText(1038, 631, 'H\u03b2', 25, serif)
let sm = addText(862, 714, 'S', 20, serif)
sm.append('tspan').text('-').attr('dy', -8).attr('font-size', 14)
let sp = addText(1023, 723, 'S', 20, serif)
sp.append('tspan').text('+').attr('dy', -8).attr('font-size', 14)

// ================= right: He lines =================
let pe = makePanel({x0: 787, x1: 1113, y0: 832, y1: 1050}, [-1500, 2280], [1.8, 5.3])
pe.plot.append('line').attr('x1', pe.x(0)).attr('x2', pe.x(0)).attr('y1', 832).attr('y2', 1050)
    .attr('stroke', '#999').attr('stroke-width', 1)
drawLine(pe, heCont, '#888', 1, '1,2')
drawLine(pe, heLine, '#333', 1)
drawFrame(pe, {xMajor: heVelTicks, xMinor: heVelMinor, yMajor: heFluxTicks, yMinor: heFluxMinor,
    len: 6, minLen: 6, fs: 15, xPad: 7, yPad: 7, xFmt: d3.format('d'), yFmt: d3.format('d')})
let h2 = addText(819, 873, 'He ', 24, serif)
h2.append('tspan').text('II').attr('font-size', 16).attr('letter-spacing', 2)
addText(848, 895, '4686', 17, serif, 'middle')
let h1 = addText(1007, 873, 'He ', 24, serif)
h1.append('tspan').text('I').attr('font-size', 16)
addText(1028, 895, '4713', 17, serif, 'middle')
addText(924, 1092, 'Radial velocity [km/s]', 24, serif, 'middle')

</script>
</body>
</html>
